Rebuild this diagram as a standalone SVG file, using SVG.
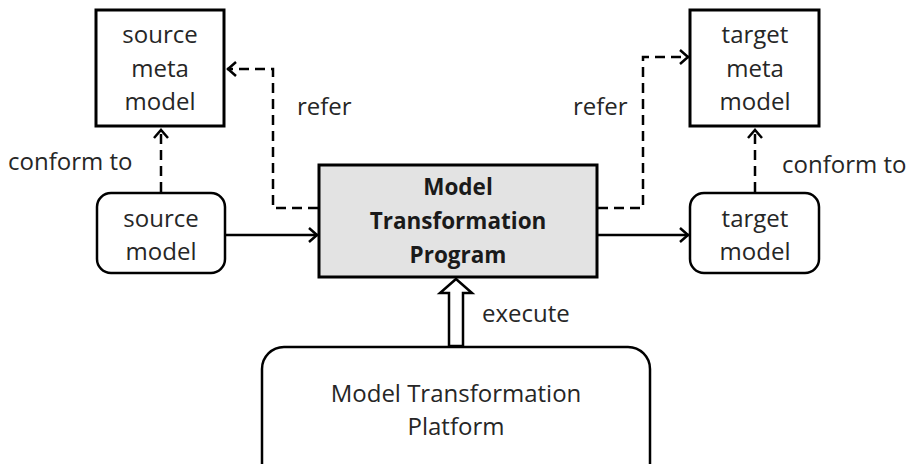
<svg xmlns="http://www.w3.org/2000/svg" width="912" height="464" viewBox="0 0 912 464">
<style>
.t{font-family:"Open Sans","Liberation Sans",sans-serif;font-size:24px;fill:#262626;text-anchor:middle}
.lbl{font-family:"Open Sans","Liberation Sans",sans-serif;font-size:24px;fill:#262626}
.b{font-family:"Open Sans","Liberation Sans",sans-serif;font-size:22.5px;font-weight:bold;fill:#1a1a1a;text-anchor:middle}
.box{fill:#fff;stroke:#000;stroke-width:3}
.rbox{fill:#fff;stroke:#000;stroke-width:2.5}
.c{fill:none;stroke:#000;stroke-width:2.5}
.d{stroke-dasharray:10 6}
</style>
<defs>
<marker id="ah" markerUnits="userSpaceOnUse" markerWidth="14" markerHeight="18" viewBox="0 0 14 18" refX="12" refY="9" orient="auto">
<path d="M3,2 L11,9 L3,16" fill="none" stroke="#000" stroke-width="2.5"/>
</marker>
</defs>
<g id="source-meta-model">
<rect class="box" x="96" y="10" width="128" height="116"/>
<text class="t" x="160" y="43">source</text>
<text class="t" x="160" y="77">meta</text>
<text class="t" x="160" y="110">model</text>
</g>
<g id="target-meta-model">
<rect class="box" x="690" y="10" width="129" height="116"/>
<text class="t" x="755" y="43">target</text>
<text class="t" x="755" y="77">meta</text>
<text class="t" x="755" y="110">model</text>
</g>
<g id="source-model">
<rect class="rbox" x="97" y="193" width="128" height="80" rx="14"/>
<text class="t" x="161" y="227">source</text>
<text class="t" x="161" y="260">model</text>
</g>
<g id="target-model">
<rect class="rbox" x="690" y="193" width="129" height="80" rx="14"/>
<text class="t" x="755" y="227">target</text>
<text class="t" x="755" y="260">model</text>
</g>
<g id="program">
<rect x="319" y="165" width="278" height="112" fill="#e3e3e3" stroke="#000" stroke-width="3"/>
<text class="b" x="458" y="195">Model</text>
<text class="b" x="458" y="229">Transformation</text>
<text class="b" x="458" y="263">Program</text>
</g>
<g id="platform">
<rect class="rbox" x="262" y="347" width="388" height="150" rx="22"/>
<text class="t" x="456" y="402">Model Transformation</text>
<text class="t" x="456" y="435">Platform</text>
</g>
<g id="connectors">
<path class="c d" d="M318,208 H273 V69 H227" marker-end="url(#ah)"/>
<path class="c d" d="M598,208 H643 V57 H689" marker-end="url(#ah)"/>
<path class="c d" d="M161,192 V129" marker-end="url(#ah)"/>
<path class="c d" d="M755,192 V129" marker-end="url(#ah)"/>
<path class="c" d="M225,235 H318" marker-end="url(#ah)"/>
<path class="c" d="M598,235 H689" marker-end="url(#ah)"/>
<polygon points="449,346 449,293 440,293 456,279 472,293 463,293 463,346" fill="#fff" stroke="#000" stroke-width="2.5"/>
<text class="lbl" x="297" y="115">refer</text>
<text class="lbl" x="573" y="115">refer</text>
<text class="lbl" x="8" y="170">conform to</text>
<text class="lbl" x="782" y="173">conform to</text>
<text class="lbl" x="482" y="322">execute</text>
</g>
</svg>
